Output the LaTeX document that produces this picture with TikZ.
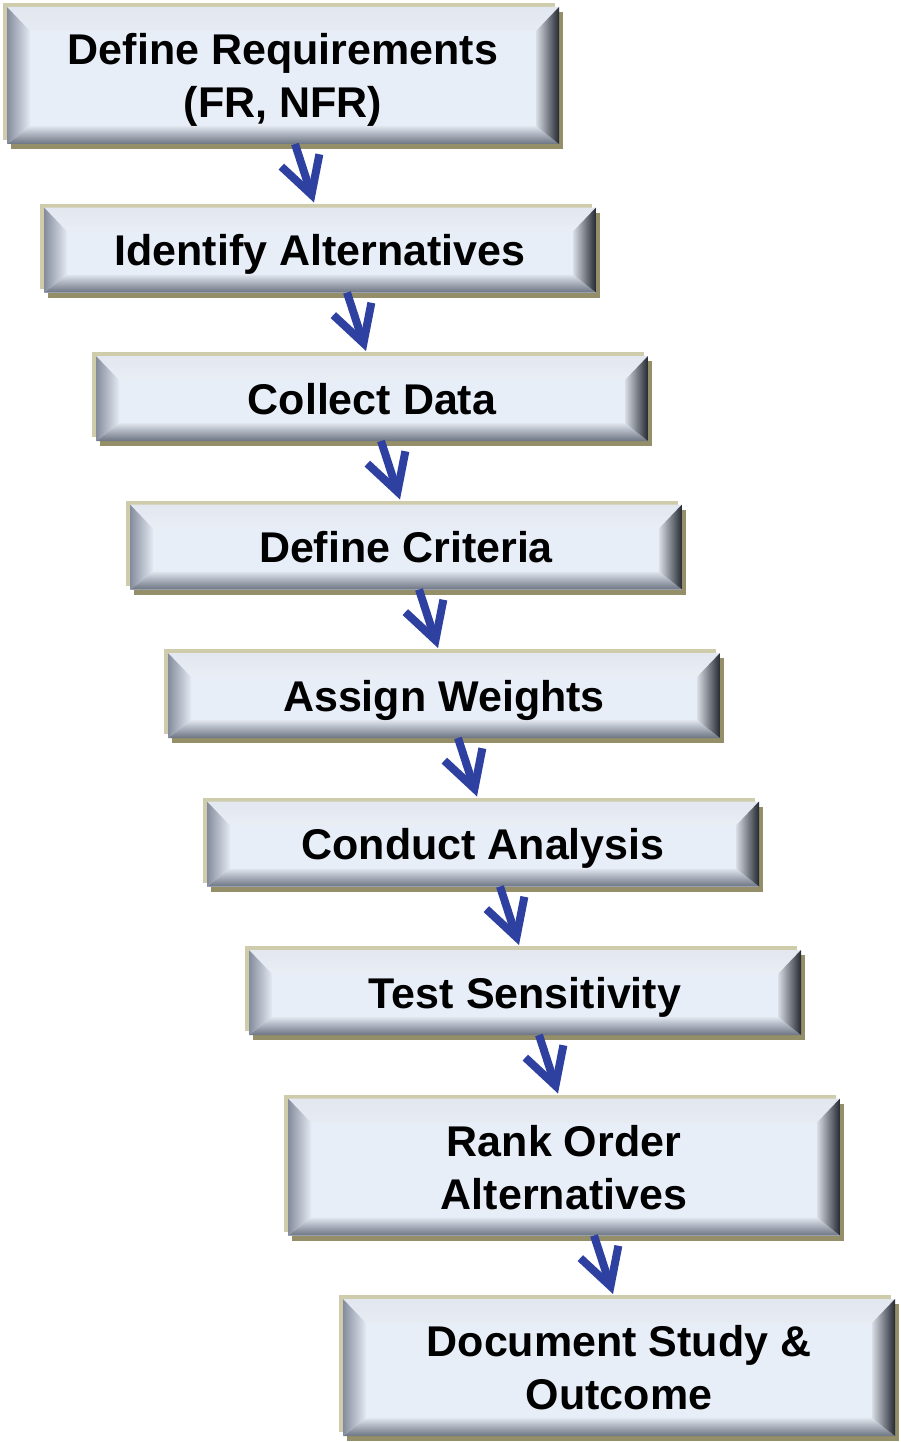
\documentclass[tikz,border=0pt]{standalone}
\usepackage{fontspec}
\setmainfont{Liberation Sans}
\usepackage{tikz}
\usetikzlibrary{arrows.meta,positioning,shadows}
\definecolor{facebg}{RGB}{232,238,248}
\definecolor{framekhaki}{RGB}{207,204,172}
\definecolor{frameolive}{RGB}{148,143,104}
\definecolor{arrowblue}{RGB}{46,64,160}
\definecolor{bvtopout}{RGB}{226,231,240}
\definecolor{bvtopin}{RGB}{253,254,255}
\definecolor{bvleftout}{RGB}{132,140,156}
\definecolor{bvleftin}{RGB}{228,233,242}
\definecolor{bvrightout}{RGB}{36,40,48}
\definecolor{bvrightmid}{RGB}{124,131,144}
\definecolor{bvrightin}{RGB}{216,221,230}
\definecolor{bvbotout}{RGB}{108,116,130}
\definecolor{bvbotin}{RGB}{224,229,238}
\newcommand{\stepfont}{\fontsize{43pt}{53pt}\selectfont\bfseries}
\newcommand{\bvl}{23pt}
\newcommand{\bvt}{24pt}
\newcommand{\bvb}{18pt}
\tikzset{stepbox/.style={rectangle, fill=facebg, minimum width=552pt,
		minimum height=85pt, inner sep=0pt, outer sep=0pt, align=center, font=\stepfont,
		text height=31pt, text depth=0pt,
		general shadow={fill=frameolive, shadow xshift=4pt, shadow yshift=-5pt},
		general shadow={fill=framekhaki, shadow xshift=-4pt, shadow yshift=4pt},
		path picture={
			\shade[top color=bvtopout, bottom color=bvtopin]
			(path picture bounding box.north west) -- (path picture bounding box.north east)
			-- ([shift={(-\bvl,-\bvt)}]path picture bounding box.north east)
			-- ([shift={(\bvl,-\bvt)}]path picture bounding box.north west) -- cycle;
			\shade[top color=bvbotin, bottom color=bvbotout]
			(path picture bounding box.south west) -- (path picture bounding box.south east)
			-- ([shift={(-\bvl,\bvb)}]path picture bounding box.south east)
			-- ([shift={(\bvl,\bvb)}]path picture bounding box.south west) -- cycle;
			\shade[left color=bvleftout, right color=bvleftin]
			(path picture bounding box.north west) -- (path picture bounding box.south west)
			-- ([shift={(\bvl,\bvb)}]path picture bounding box.south west)
			-- ([shift={(\bvl,-\bvt)}]path picture bounding box.north west) -- cycle;
			\shade[left color=bvrightin, middle color=bvrightmid, right color=bvrightout]
			(path picture bounding box.north east) -- (path picture bounding box.south east)
			-- ([shift={(-\bvl,\bvb)}]path picture bounding box.south east)
			-- ([shift={(-\bvl,-\bvt)}]path picture bounding box.north east) -- cycle;
		}},
	twoline/.style={stepbox, minimum height=137pt, text height=84pt, text depth=0pt},
	arrow/.style={draw=arrowblue, line width=8pt, -{Straight Barb[length=36pt,width=40pt]}}}

\begin{document}
\begin{tikzpicture}
	\useasboundingbox (0,0) rectangle (900pt,-1442pt);
	\node [twoline, anchor=north west] (req) at (7pt,-7pt) {Define Requirements\\(FR, NFR)};
	\node [stepbox, below=63.5pt of req.south west, anchor=north west, xshift=37pt] (alt) {Identify Alternatives};
	\node [stepbox, below=63.5pt of alt.south west, anchor=north west, xshift=52pt] (data) {Collect Data};
	\node [stepbox, below=63.5pt of data.south west, anchor=north west, xshift=34pt] (crit) {Define Criteria};
	\node [stepbox, below=63.5pt of crit.south west, anchor=north west, xshift=38pt] (weights) {Assign Weights};
	\node [stepbox, below=63.5pt of weights.south west, anchor=north west, xshift=39pt] (analysis) {Conduct Analysis};
	\node [stepbox, below=63.5pt of analysis.south west, anchor=north west, xshift=42pt] (sens) {Test Sensitivity};
	\node [twoline, below=63.5pt of sens.south west, anchor=north west, xshift=39pt] (rank) {Rank Order\\Alternatives};
	\node [twoline, below=63.5pt of rank.south west, anchor=north west, xshift=55pt] (doc) {Document Study \&\\Outcome};
	
	\draw [arrow] ([xshift=251pt]alt.north west |- req.south) -- ([shift={(270pt,5pt)}]alt.north west);
	\draw [arrow] ([xshift=251pt]data.north west |- alt.south) -- ([shift={(270pt,5pt)}]data.north west);
	\draw [arrow] ([xshift=251pt]crit.north west |- data.south) -- ([shift={(270pt,5pt)}]crit.north west);
	\draw [arrow] ([xshift=251pt]weights.north west |- crit.south) -- ([shift={(270pt,5pt)}]weights.north west);
	\draw [arrow] ([xshift=251pt]analysis.north west |- weights.south) -- ([shift={(270pt,5pt)}]analysis.north west);
	\draw [arrow] ([xshift=251pt]sens.north west |- analysis.south) -- ([shift={(270pt,5pt)}]sens.north west);
	\draw [arrow] ([xshift=251pt]rank.north west |- sens.south) -- ([shift={(270pt,5pt)}]rank.north west);
	\draw [arrow] ([xshift=251pt]doc.north west |- rank.south) -- ([shift={(270pt,5pt)}]doc.north west);
\end{tikzpicture}
\end{document}
